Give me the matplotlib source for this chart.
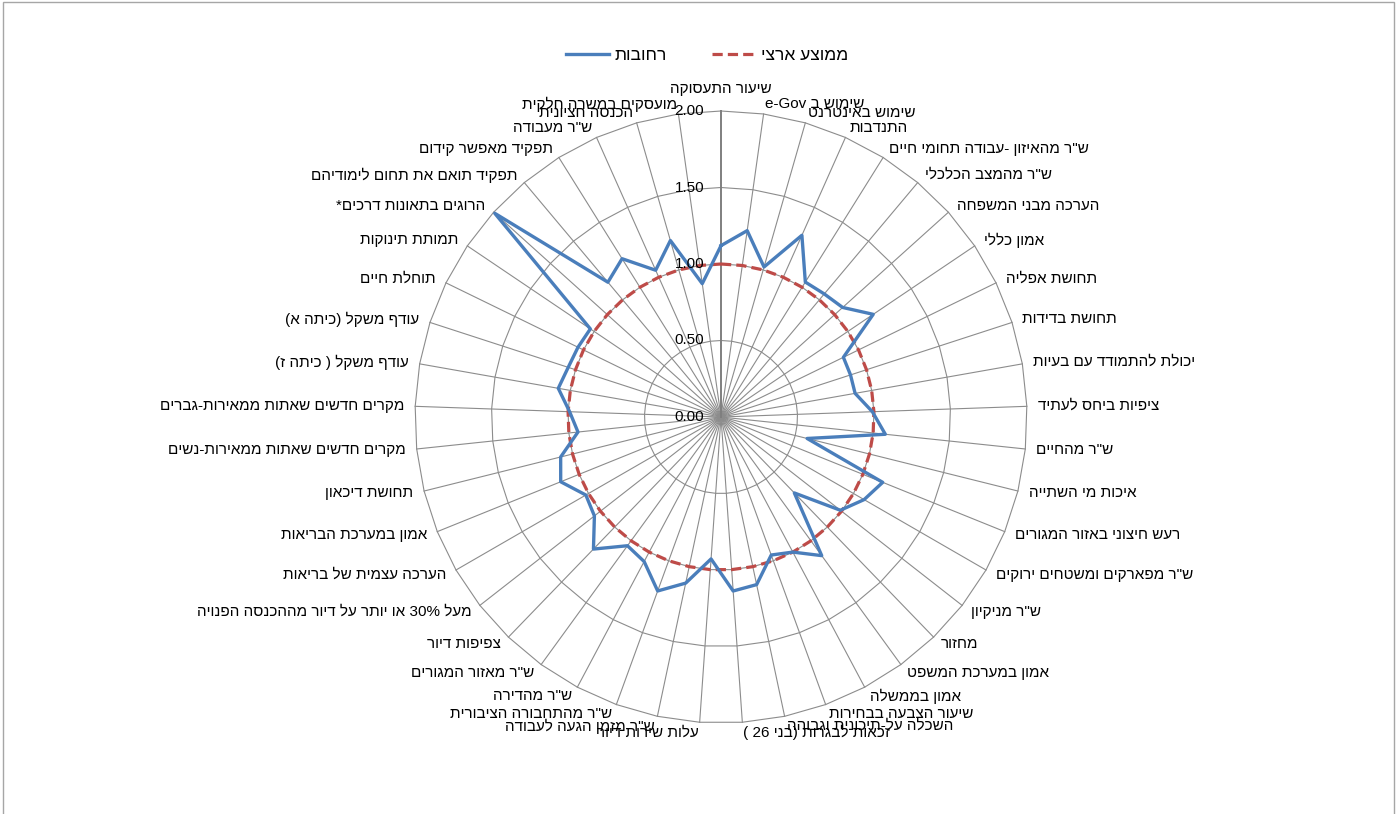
import re
import numpy as np
import matplotlib
matplotlib.use('Agg')
import matplotlib.pyplot as plt
from matplotlib.lines import Line2D
from matplotlib.patches import Rectangle

plt.rcParams['font.family'] = ['Liberation Sans', 'DejaVu Sans']

# ── Data ──────────────────────────────────────────────────────────────────────
categories = [
    'שיעור התעסוקה', 'שימוש ב e-Gov', 'שימוש באינטרנט', 'התנדבות',
    'ש"ר מהאיזון -עבודה תחומי חיים', 'ש"ר מהמצב הכלכלי', 'הערכה מבני המשפחה',
    'אמון כללי', 'תחושת אפליה', 'תחושת בדידות', 'יכולת להתמודד עם בעיות',
    'ציפיות ביחס לעתיד', 'ש"ר מהחיים', 'איכות מי השתייה',
    'רעש חיצוני באזור המגורים', 'ש"ר מפארקים ומשטחים ירוקים', 'ש"ר מניקיון',
    'מחזור', 'אמון במערכת המשפט', 'אמון בממשלה', 'שיעור הצבעה בבחירות',
    'השכלה על-תיכונית וגבוהה', 'זכאות לבגרות (בני 26 )', 'עלות שירות דיור',
    'ש"ר מזמן הגעה לעבודה', 'ש"ר מהתחבורה הציבורית', 'ש"ר מהדירה',
    'ש"ר מאזור המגורים', 'צפיפות דיור', 'מעל 30% או יותר על דיור מההכנסה הפנויה',
    'הערכה עצמית של בריאות', 'אמון במערכת הבריאות', 'תחושת דיכאון',
    'מקרים חדשים שאתות ממאירות-נשים', 'מקרים חדשים שאתות ממאירות-גברים',
    'עודף משקל ( כיתה ז)', 'עודף משקל (כיתה א)', 'תוחלת חיים', 'תמותת תינוקות',
    'הרוגים בתאונות דרכים*', 'תפקיד תואם את תחום לימודיהם', 'תפקיד מאפשר קידום',
    'ש"ר מעבודה', 'הכנסה חציונית', 'מועסקים במשרה חלקית',
]

rehovot = [1.12, 1.23, 1.02, 1.30, 1.04, 1.05, 1.07, 1.20, 0.89, 0.89,
           0.89, 0.99, 1.08, 0.58, 1.14, 1.08, 0.99, 0.69, 1.12, 1.00,
           0.96, 1.12, 1.14, 0.93, 1.11, 1.21, 1.07, 1.04, 1.20, 1.05,
           1.02, 1.13, 1.08, 0.94, 0.99, 1.08, 1.05, 1.04, 1.03, 1.99,
           1.15, 1.22, 1.05, 1.20, 0.88]
national = [1.0] * len(categories)

ring_levels = [0.5, 1.0, 1.5, 2.0]
tick_levels = [0.0, 0.5, 1.0, 1.5, 2.0]
tick_labels = ['0.00', '0.50', '1.00', '1.50', '2.00']

series_names = ['רחובות', 'ממוצע ארצי']


def vis(s):
    """Visual (left-to-right) order for a right-to-left Hebrew string."""
    r = s[::-1]
    r = re.sub(r'%?[0-9A-Za-z](?:[0-9A-Za-z\-\.%]*[0-9A-Za-z])?',
               lambda m: m.group(0)[::-1], r)
    mirror = {'(': ')', ')': '('}
    return ''.join(mirror.get(c, c) for c in r)


n = len(categories)
theta = np.arange(n) * 2 * np.pi / n
theta_c = np.append(theta, theta[0])

BLUE = '#4A7EBB'
RED = '#BE4B48'
GRID = '#8c8c8c'

fig = plt.figure(figsize=(14, 8.14), dpi=100)
px = 72 / fig.dpi  # points per pixel

ax = fig.add_axes([415 / 1400, 91 / 814, 612 / 1400, 612 / 814], projection='polar')
ax.set_theta_zero_location('N')
ax.set_theta_direction(-1)
ax.set_ylim(0, 2)
ax.set_xticks([])
ax.set_yticks([])
ax.grid(False)
ax.spines['polar'].set_visible(False)
ax.patch.set_alpha(0)

# polygon gridlines and spokes
for lv in ring_levels:
    ax.plot(theta_c, [lv] * (n + 1), color=GRID, lw=0.8, clip_on=False, zorder=1)
for t in theta[1:]:
    ax.plot([t, t], [0, 2], color=GRID, lw=0.8, clip_on=False, zorder=1)
ax.plot([0, 0], [0, 2], color='#7f7f7f', lw=1.4, clip_on=False, zorder=1)

# series
ax.plot(theta_c, national + national[:1], color=RED, lw=2.3,
        linestyle=(0, (3.2, 1.6)), clip_on=False, zorder=3)
ax.plot(theta_c, rehovot + rehovot[:1], color=BLUE, lw=2.4,
        clip_on=False, zorder=4)

# value axis labels
for lv, lab in zip(tick_levels, tick_labels):
    ax.annotate(lab, xy=(0, lv), xytext=(-17 * px, 0), textcoords='offset points',
                ha='right', va='center', fontsize=11, color='black',
                annotation_clip=False, zorder=5)

# category labels
for t, lab in zip(theta, categories):
    s, c = np.sin(t), np.cos(t)
    if abs(s) < 0.05:
        ha, off = 'center', (0, 22 * px)
    else:
        ha = 'left' if s > 0 else 'right'
        off = (11 * s * px, 10 * c * px)
    ax.annotate(vis(lab), xy=(t, 2.0), xytext=off, textcoords='offset points',
                ha=ha, va='center', fontsize=11, color='black',
                annotation_clip=False)

# legend
handles = [Line2D([], [], color=BLUE, lw=2.4),
           Line2D([], [], color=RED, lw=2.3, linestyle=(0, (3.2, 1.6)))]
fig.legend(handles, [vis(s) for s in series_names], loc='center', ncol=2,
           bbox_to_anchor=(707 / 1400, 1 - 55 / 814), frameon=False,
           fontsize=12.5, handlelength=2.5, handletextpad=0.3, columnspacing=2.6)

# chart area border
fig.patches.append(Rectangle((3 / 1400, -0.01), 1391 / 1400, 1 - 2 / 814 + 0.01,
                             transform=fig.transFigure, fill=False,
                             edgecolor='#a6a6a6', lw=1.0))

fig.savefig('out.png', dpi=100)
